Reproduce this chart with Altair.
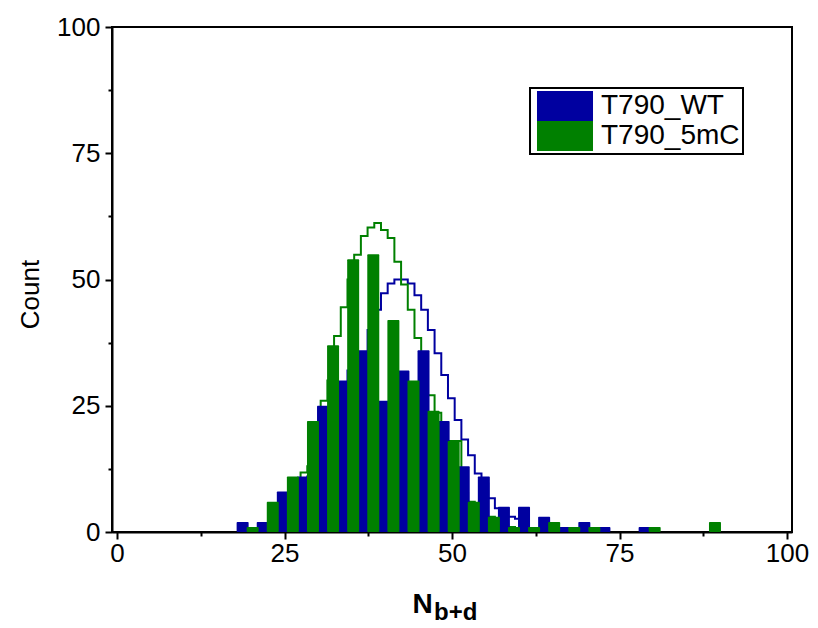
import altair as alt
import pandas as pd

# ---- histogram bars (bin centre, count) ----
wt_x = [18.75, 21.75, 24.75, 27.75, 30.75, 33.75, 36.75, 39.75, 42.75, 45.75,
        48.75, 51.75, 54.75, 57.75, 60.75, 63.75, 66.75, 69.75, 72.75, 78.75]
wt_n = [2, 2, 8, 11, 25, 30, 36, 26, 32, 36, 22, 13, 11, 5, 5, 3, 1, 2, 1, 1]
mc_x = [20.25, 23.25, 26.25, 29.25, 32.25, 35.25, 38.25, 41.25, 44.25, 47.25,
        50.25, 53.25, 56.25, 59.25, 62.25, 65.25, 68.25, 71.25, 80.25, 89.25]
mc_n = [1, 6, 11, 22, 37, 54, 55, 42, 30, 24, 18, 6, 3, 1, 1, 2, 1, 1, 1, 2]

# ---- step outlines (step start, value) ----
wt_line_x = [20.4, 20.4, 21.4, 22.4, 23.4, 24.4, 25.4, 26.4, 27.4, 28.4, 29.4, 30.4,
             31.4, 32.4, 33.4, 34.4, 35.4, 36.4, 37.4, 38.4, 39.4, 40.4, 41.4,
             42.4, 43.4, 44.4, 45.4, 46.4, 47.4, 48.4, 49.4, 50.4, 51.4, 52.4,
             53.4, 54.4, 55.4, 56.4, 57.4, 58.4, 59.4, 60.4, 61.4, 62.4]
wt_line_v = [0, 0.5, 1, 1.5, 2, 3, 4, 6, 8, 11, 14, 18,
             22, 26, 29, 32, 34, 35, 40, 44, 47.3, 49.2, 50,
             50, 49.2, 46.9, 44, 40, 35.4, 31.1, 26.5, 22.2, 18.3, 15.2,
             11.6, 9.6, 6.7, 4.7, 4.7, 3.0, 2.6, 2.4, 0.7, 0]
mc_line_x = [20.4, 20.4, 21.4, 22.4, 23.4, 24.4, 25.4, 26.4, 27.4, 28.4, 29.4, 30.4,
             31.4, 32.4, 33.4, 34.4, 35.4, 36.4, 37.4, 38.4, 39.4, 40.4, 41.4,
             42.4, 43.4, 44.4, 45.4, 46.4, 47.4, 48.4, 49.4, 50.4, 51.4, 52.4,
             53.4, 54.4, 55.4, 56.4, 57.4, 58.4, 59.4, 60.4, 61.4]
mc_line_v = [0, 0.5, 1, 1.5, 2, 3.5, 4, 7, 11.8, 13, 17, 26,
             30, 38.8, 44.5, 50, 54.9, 58.6, 60.3, 61.2, 59.8, 58.2, 53.5,
             49, 44, 38.4, 32.7, 27.1, 23.6, 18, 18, 18, 7.7, 6,
             5, 3, 3, 2, 1.5, 1, 0.5, 0.5, 0]

series = ["T790_WT", "T790_5mC"]
colors = ["#0000a0", "#008000"]

major = [0, 25, 50, 75, 100]
minor = [12.5, 37.5, 62.5, 87.5]

FONT = "Liberation Sans"

bars_df = pd.DataFrame({
    "x": wt_x + mc_x,
    "n": wt_n + mc_n,
    "s": [series[0]] * len(wt_x) + [series[1]] * len(mc_x),
})
wt_line = pd.DataFrame({"x": wt_line_x, "v": wt_line_v})
mc_line = pd.DataFrame({"x": mc_line_x, "v": mc_line_v})
minor_df = pd.DataFrame({"m": minor})
sub_df = pd.DataFrame({"t": ["b+d"]})

xs = alt.Scale(domain=[0, 100], nice=False, zero=False)
ys = alt.Scale(domain=[0, 100], nice=False)

x_axis = alt.Axis(values=major, title="N", titleFontSize=28, titleFontWeight="bold",
                  titleX=310, titleY=80, titleAlign="center", titleBaseline="alphabetic",
                  labelFontSize=26, labelPadding=1, labelFlush=False, orient="bottom")
y_axis = alt.Axis(values=major, title="Count", titleFontSize=26, titleFontWeight="normal",
                  titleX=-82, titleY=267, titleAlign="center", titleBaseline="middle",
                  titleAngle=-90, labelFontSize=26, labelPadding=5, labelFlush=False, orient="left")

wt_outline = alt.Chart(wt_line).mark_line(interpolate="step-after", strokeWidth=2,
                                          color=colors[0]).encode(
    x=alt.X("x:Q", scale=xs, axis=x_axis),
    y=alt.Y("v:Q", scale=ys, axis=y_axis),
)
mc_outline = alt.Chart(mc_line).mark_line(interpolate="step-after", strokeWidth=2,
                                          color=colors[1]).encode(
    x=alt.X("x:Q", scale=xs, axis=None),
    y=alt.Y("v:Q", scale=ys, axis=None),
)

bars = alt.Chart(bars_df).mark_bar(size=12, cornerRadius=1).encode(
    x=alt.X("x:Q", scale=xs, axis=None),
    y=alt.Y("n:Q", scale=ys, stack=None, axis=None),
    color=alt.Color("s:N", scale=alt.Scale(domain=series, range=colors),
                    sort=series,
                    legend=alt.Legend(title=None, orient="none", legendX=418, legendY=61,
                                      symbolType="M-1.867,-1H1.867V1H-1.867Z",
                                      symbolSize=900, symbolOffset=17,
                                      symbolStrokeWidth=0, symbolOpacity=1,
                                      labelFontSize=28, labelFont=FONT, labelOffset=21,
                                      labelColor="black", rowPadding=0, padding=3,
                                      strokeColor="black")),
    order=alt.Order("idx:Q"),
).transform_calculate(idx="datum.s == 'T790_WT' ? 0 : 1")

minor_x = alt.Chart(minor_df).mark_point(opacity=0).encode(
    x=alt.X("m:Q", scale=xs, axis=alt.Axis(values=minor, labels=False, title=None,
                                           domain=False, tickSize=4, orient="bottom")),
)
minor_y = alt.Chart(minor_df).mark_point(opacity=0).encode(
    y=alt.Y("m:Q", scale=ys, axis=alt.Axis(values=minor, labels=False, title=None,
                                           domain=False, tickSize=4, orient="left")),
)

sub = alt.Chart(sub_df).mark_text(align="left", baseline="alphabetic", fontSize=24,
                                  fontWeight="bold", font=FONT, color="black").encode(
    x=alt.value(322), y=alt.value(593), text="t:N"
)

chart = alt.layer(wt_outline, mc_outline, bars, minor_x, minor_y, sub).resolve_axis(
    x="independent", y="independent"
).properties(
    width=680, height=505,
    autosize=alt.AutoSizeParams(type="none"),
    padding={"left": 112, "top": 27, "right": 26, "bottom": 96},
    background="white",
).configure_view(
    stroke="black", strokeWidth=2
).configure_axis(
    grid=False, domainColor="black", domainWidth=2, tickColor="black", tickWidth=2,
    tickSize=7, labelColor="black", titleColor="black", labelFont=FONT, titleFont=FONT,
).configure_legend(
    strokeWidth=2
)

chart.save("out.html", embed_options={"renderer": "svg", "actions": False})
